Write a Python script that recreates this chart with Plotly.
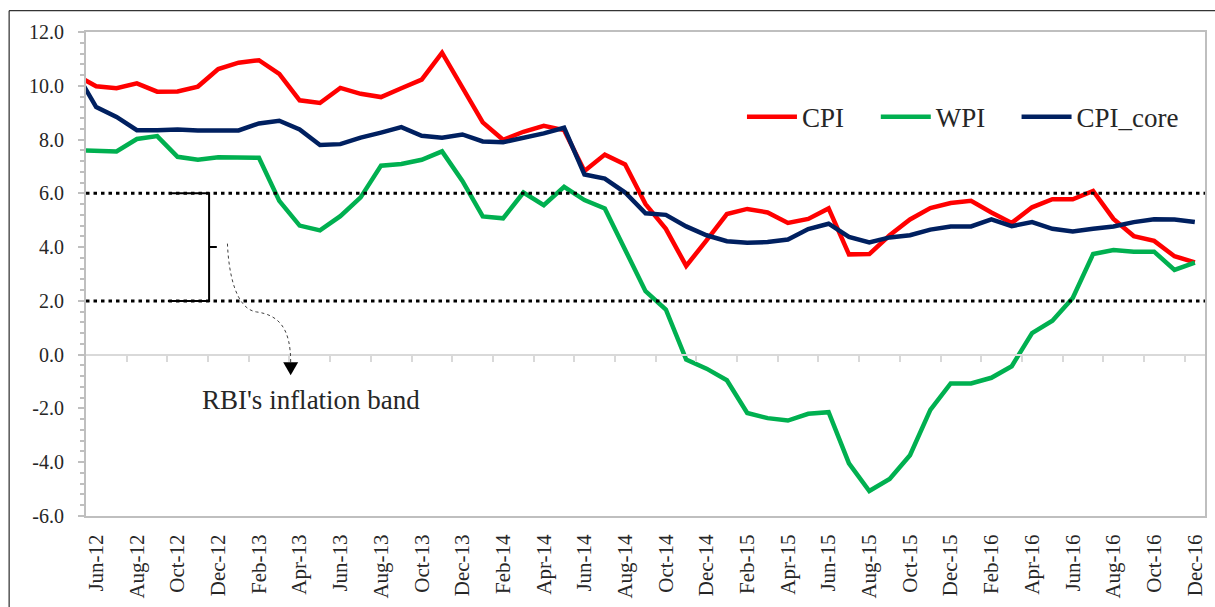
import pandas as pd
import plotly.graph_objects as go

# months (May-12 is only partly visible at the left edge)
months = list(pd.date_range("2012-05-01", "2016-12-01", freq="MS").strftime("%b-%y"))

cpi = [10.4, 9.98, 9.91, 10.09, 9.78, 9.79, 9.97, 10.62,
       10.86, 10.95, 10.44, 9.46, 9.36, 9.92, 9.70, 9.58, 9.91, 10.23, 11.23, 9.94,
       8.64, 7.99, 8.29, 8.51, 8.35, 6.83, 7.44, 7.07, 5.60, 4.68, 3.30, 4.25,
       5.23, 5.42, 5.29, 4.90, 5.05, 5.44, 3.73, 3.74, 4.44, 5.03, 5.45, 5.64,
       5.72, 5.29, 4.90, 5.48, 5.78, 5.78, 6.09, 5.05, 4.41, 4.23, 3.66, 3.43]

wpi = [7.6, 7.60, 7.56, 8.02, 8.13, 7.36, 7.25, 7.34,
       7.34, 7.32, 5.72, 4.80, 4.62, 5.15, 5.85, 7.03, 7.09, 7.25, 7.56, 6.46,
       5.14, 5.07, 6.03, 5.56, 6.24, 5.75, 5.44, 3.89, 2.36, 1.68, -0.18, -0.52,
       -0.95, -2.17, -2.36, -2.45, -2.20, -2.14, -4.04, -5.07, -4.62, -3.74, -2.05, -1.07,
       -1.07, -0.86, -0.43, 0.80, 1.26, 2.11, 3.74, 3.89, 3.83, 3.83, 3.15, 3.42]

cpi_core = [10.5, 9.21, 8.84, 8.35, 8.35, 8.37, 8.34, 8.34,
            8.34, 8.60, 8.70, 8.38, 7.80, 7.83, 8.07, 8.26, 8.46, 8.14, 8.07, 8.19,
            7.93, 7.90, 8.05, 8.23, 8.44, 6.70, 6.55, 6.03, 5.26, 5.20, 4.77, 4.44,
            4.22, 4.16, 4.19, 4.28, 4.67, 4.87, 4.38, 4.17, 4.36, 4.44, 4.65, 4.77,
            4.77, 5.03, 4.78, 4.93, 4.68, 4.58, 4.68, 4.77, 4.93, 5.04, 5.03, 4.93]

band = [6.0, 2.0]  # RBI's inflation band
tick_labels = months[1::2]
y_ticks = [-6, -4, -2, 0, 2, 4, 6, 8, 10, 12]

font = "Liberation Serif"
grey = "#bfbfbf"

fig = go.Figure()
fig.add_trace(go.Scatter(x=months, y=cpi, name="CPI", mode="lines", legend="legend",
                         line=dict(color="#ff0000", width=4.5)))
fig.add_trace(go.Scatter(x=months, y=wpi, name="WPI", mode="lines", legend="legend2",
                         line=dict(color="#00b050", width=4.5)))
fig.add_trace(go.Scatter(x=months, y=cpi_core, name="CPI_core", mode="lines", legend="legend3",
                         line=dict(color="#002060", width=4.5)))
# empty trace so the zero-line axis gets drawn
fig.add_trace(go.Scatter(x=[], y=[], xaxis="x2", showlegend=False, hoverinfo="skip"))

# band lines
for b in band:
    fig.add_shape(type="line", xref="paper", yref="y", x0=0, x1=1, y0=b, y1=b,
                  line=dict(color="black", width=3, dash="3.5px,4px"))

# bracket
mid = (band[0] + band[1]) / 2
fig.add_shape(type="path", xref="paper", yref="y",
              path=f"M0.0741,{band[0]} L0.110,{band[0]} L0.110,{band[1]} L0.0732,{band[1]} "
                   f"M0.110,{mid} L0.1169,{mid}",
              line=dict(color="black", width=2))
# dotted curved arrow
fig.add_shape(type="path", xref="paper", yref="y",
              path="M0.1264,4.13 C0.1275,3.0 0.134,1.7 0.1523,1.59 C0.172,1.48 0.1829,1.0 0.1829,-0.28",
              line=dict(color="#404040", width=1, dash="dot"))
fig.add_shape(type="path", xref="paper", yref="y",
              path="M0.1762,-0.28 L0.1896,-0.28 L0.1829,-0.77 Z",
              fillcolor="black", line=dict(color="black", width=0))
fig.add_annotation(text="RBI's inflation band", xref="paper", yref="y", x=0.2008, y=-1.68,
                   xanchor="center", yanchor="middle", showarrow=False,
                   font=dict(family=font, size=27, color="#262626"))

# outer frame of the picture
fig.add_shape(type="rect", xref="paper", yref="paper", x0=-0.0687, x1=1.5, y0=-0.5, y1=1.044,
              line=dict(color="black", width=1), layer="below")

legend_style = dict(orientation="h", y=0.824, xanchor="left", yanchor="middle",
                    font=dict(family=font, size=27, color="#262626"),
                    bgcolor="rgba(0,0,0,0)", itemwidth=50)

fig.update_layout(
    width=1215, height=607,
    margin=dict(l=86, r=8, t=32, b=84),
    paper_bgcolor="white", plot_bgcolor="white",
    showlegend=True,
    legend=dict(x=0.5862, **legend_style),
    legend2=dict(x=0.7058, **legend_style),
    legend3=dict(x=0.8316, **legend_style),
    xaxis=dict(type="category", range=[0.5, 55.5], showline=True, mirror=True,
               linecolor=grey, linewidth=2, ticks="", showgrid=False,
               tickvals=tick_labels, ticktext=tick_labels, tickangle=-90,
               tickfont=dict(family=font, size=21, color="#262626"),
               ticklabelstandoff=8),
    xaxis2=dict(overlaying="x", anchor="free", position=1/3, range=[0.5, 55.5],
                showline=True, linecolor="#d9d9d9", linewidth=2, ticks="outside",
                ticklen=6, tickcolor="#d9d9d9", tickwidth=1.5,
                tickvals=[k + 0.5 for k in range(2, 56, 2)],
                showticklabels=False, showgrid=False, zeroline=False),
    yaxis=dict(range=[-6, 12], tickvals=y_ticks, ticktext=[f"{v:.1f}" for v in y_ticks],
               showline=True, mirror=True,
               linecolor=grey, linewidth=2, ticks="outside", ticklen=6,
               tickcolor=grey, tickwidth=1.5, showgrid=False, zeroline=False,
               minor=dict(dtick=0.4, ticks="outside", ticklen=4, tickcolor=grey),
               tickfont=dict(family=font, size=20, color="#262626"),
               ticklabelstandoff=10),
)

fig.write_html("out.html", config={"displayModeBar": False},
               post_script="document.body.style.margin='0';")
